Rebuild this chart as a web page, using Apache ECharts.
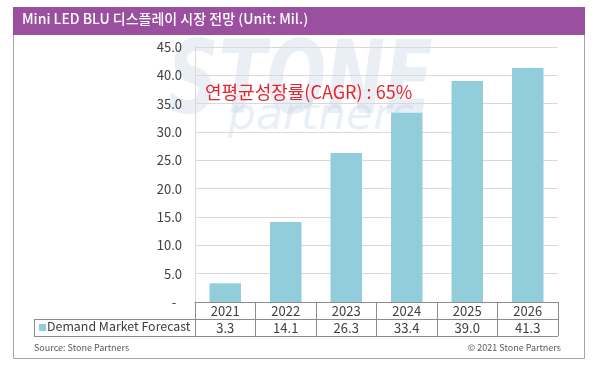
<!DOCTYPE html>
<html><head><meta charset="utf-8">
<script src="https://cdn.jsdelivr.net/npm/echarts@6/dist/echarts.min.js"></script>
<style>html,body{margin:0;padding:0;background:#fff}#c{width:600px;height:366px}</style>
</head><body><div id="c"></div>
<script>
const titleText = 'Mini LED BLU 디스플레이 시장 전망 (Unit: Mil.)';
const categories = ['2021','2022','2023','2024','2025','2026'];
const seriesName = 'Demand Market Forecast';
const values = [3.3, 14.1, 26.3, 33.4, 39.0, 41.3];
const yTicks = {min: 0, max: 45, interval: 5};
const annotation = '연평균성장률(CAGR) : 65%';
const sourceText = 'Source: Stone Partners';
const copyrightText = '© 2021 Stone Partners';

const FONT = '"Noto Sans CJK KR", "Noto Sans", sans-serif';
const tableLine = '#8c8c8c';
const chart = echarts.init(document.getElementById('c'), null, {renderer: 'canvas'});
chart.setOption({
  animation: false,
  backgroundColor: '#fff',
  grid: {left: 195, top: 47, width: 363, height: 255},
  xAxis: [{
    type: 'category', data: categories, position: 'bottom',
    axisLine: {show: true, lineStyle: {color: tableLine, width: 1}},
    axisTick: {show: true, length: 34, lineStyle: {color: tableLine, width: 1}},
    axisLabel: {margin: 3, fontSize: 13, color: '#404040', fontFamily: FONT}
  }, {
    type: 'category', data: values.map(v => v.toFixed(1)), position: 'bottom', offset: 17,
    axisLine: {show: false}, axisTick: {show: false},
    axisLabel: {margin: 3, fontSize: 13, color: '#404040', fontFamily: FONT}
  }],
  yAxis: {
    type: 'value', min: yTicks.min, max: yTicks.max, interval: yTicks.interval,
    axisLine: {show: true, lineStyle: {color: '#d9d9d9'}},
    axisTick: {show: false},
    splitLine: {lineStyle: {color: '#d9d9d9'}},
    axisLabel: {margin: 13, fontSize: 13, color: '#404040', fontFamily: FONT,
      formatter: v => v === 0 ? '-  ' : v.toFixed(1)}
  },
  series: [{
    name: seriesName, type: 'bar', data: values, barWidth: '52%',
    itemStyle: {color: '#92cddc'}, z: 3
  }],
  graphic: [
    // frame
    {type: 'rect', shape: {x: 13.5, y: 7.5, width: 571, height: 351}, style: {fill: 'none', stroke: '#a6a6a6', lineWidth: 1}, z: 1},
    {type: 'rect', shape: {x: 13, y: 7, width: 572, height: 28}, style: {fill: '#9a4f9f'}, z: 2},
    {type: 'text', left: 22, top: 12, style: {text: titleText, fill: '#fff', font: '500 14px ' + FONT}, z: 3},
    // watermark
    {type: 'text', x: 168, y: 36, scaleX: 0.78, scaleY: 1.12, style: {text: 'STONE', fill: 'rgba(175,195,222,0.26)', font: 'italic bold 90px "DejaVu Sans", sans-serif'}, z: 0, silent: true},
    {type: 'text', x: 228, y: 96, style: {text: 'partners', fill: 'rgba(175,195,222,0.26)', font: 'italic 44px "DejaVu Sans", sans-serif'}, z: 0, silent: true},
    // annotation
    {type: 'text', x: 205, y: 83, style: {text: annotation, fill: '#e3262c', font: '18px ' + FONT}, z: 10},
    // table borders
    {type: 'line', shape: {x1: 34, y1: 319.5, x2: 558, y2: 319.5}, style: {stroke: tableLine, lineWidth: 1}, z: 5},
    {type: 'line', shape: {x1: 34, y1: 336.5, x2: 558, y2: 336.5}, style: {stroke: tableLine, lineWidth: 1}, z: 5},
    {type: 'line', shape: {x1: 34.5, y1: 319, x2: 34.5, y2: 337}, style: {stroke: tableLine, lineWidth: 1}, z: 5},
    // legend marker + name
    {type: 'rect', shape: {x: 39, y: 324, width: 7, height: 7}, style: {fill: '#92cddc'}, z: 5},
    {type: 'text', x: 47, y: 320.5, style: {text: seriesName, fill: '#404040', font: '12.4px ' + FONT}, z: 5},
    // footer
    {type: 'text', x: 34, y: 343, style: {text: sourceText, fill: '#595959', font: '9px ' + FONT}, z: 5},
    {type: 'text', right: 39, top: 343, style: {text: copyrightText, fill: '#595959', font: '9px ' + FONT}, z: 5}
  ]
});
</script>
</body></html>
